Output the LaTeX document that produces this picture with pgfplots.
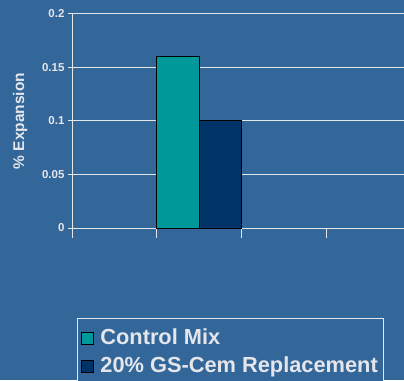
\documentclass[border=0pt]{standalone}
\usepackage{fontspec}
\setmainfont{Liberation Sans}
\usepackage{pgfplots}
\pgfplotsset{compat=1.18}
\definecolor{bg}{HTML}{336699}
\definecolor{teal1}{HTML}{009999}
\definecolor{navy1}{HTML}{003366}
\definecolor{fg}{HTML}{E4E6EC}
\begin{document}
\begin{tikzpicture}
\fill[bg] (0pt,0pt) rectangle (404pt,380pt);
\useasboundingbox (0pt,0pt) rectangle (404pt,380pt);
\begin{axis}[
  at={(72pt,152pt)}, anchor=south west,
  scale only axis, width=332pt, height=214pt,
  xmin=0, xmax=3.906, ymin=0, ymax=0.2,
  axis lines=left,
  axis line style={draw=fg, line width=1pt, -},
  xtick={0,1,2,3}, xticklabels={},
  ytick={0,0.05,0.1,0.15,0.2},
  yticklabels={0,0.05,0.1,0.15,0.2},
  tick align=outside,
  major tick length=4pt,
  xtick style={draw=fg, line width=1pt, /pgfplots/major tick length=10pt},
  ytick style={draw=fg, line width=1pt},
  ymajorgrids,
  grid style={draw=fg, line width=1pt},
  tick label style={font=\bfseries\fontsize{11.5}{13}\selectfont, text=fg},
  ylabel={\% Expansion},
  every axis y label/.style={at={(axis description cs:-0.1566,0.5)}, rotate=90, anchor=center, font=\bfseries\fontsize{15.5}{18}\selectfont, text=fg},
  legend style={at={(rel axis cs:0.015,-0.4206)}, anchor=north west, fill=bg, draw=fg, line width=0.8pt,
     font=\bfseries\fontsize{21.8}{26}\selectfont, text=fg, row sep=3pt, inner xsep=4pt, inner ysep=8pt,
     nodes={inner xsep=2pt, inner ysep=2pt, text height=16pt, text depth=5pt},
     /tikz/every odd column/.append style={column sep=4pt}},
  legend cell align=left,
]
\addplot[ybar, bar width=0.5, bar shift=0pt, fill=teal1, draw=black, line width=1pt,
  legend image code/.code={\draw[fill=teal1,draw=black,line width=1pt] (0pt,-6pt) rectangle (12pt,6pt);}]
  coordinates {(1.25,0.16)};
\addlegendentry{Control Mix}
\addplot[ybar, bar width=0.5, bar shift=0pt, fill=navy1, draw=black, line width=1pt,
  legend image code/.code={\draw[fill=navy1,draw=black,line width=1pt] (0pt,-6pt) rectangle (12pt,6pt);}]
  coordinates {(1.75,0.10)};
\addlegendentry{20\% GS-Cem Replacement}
\end{axis}
\end{tikzpicture}
\end{document}
